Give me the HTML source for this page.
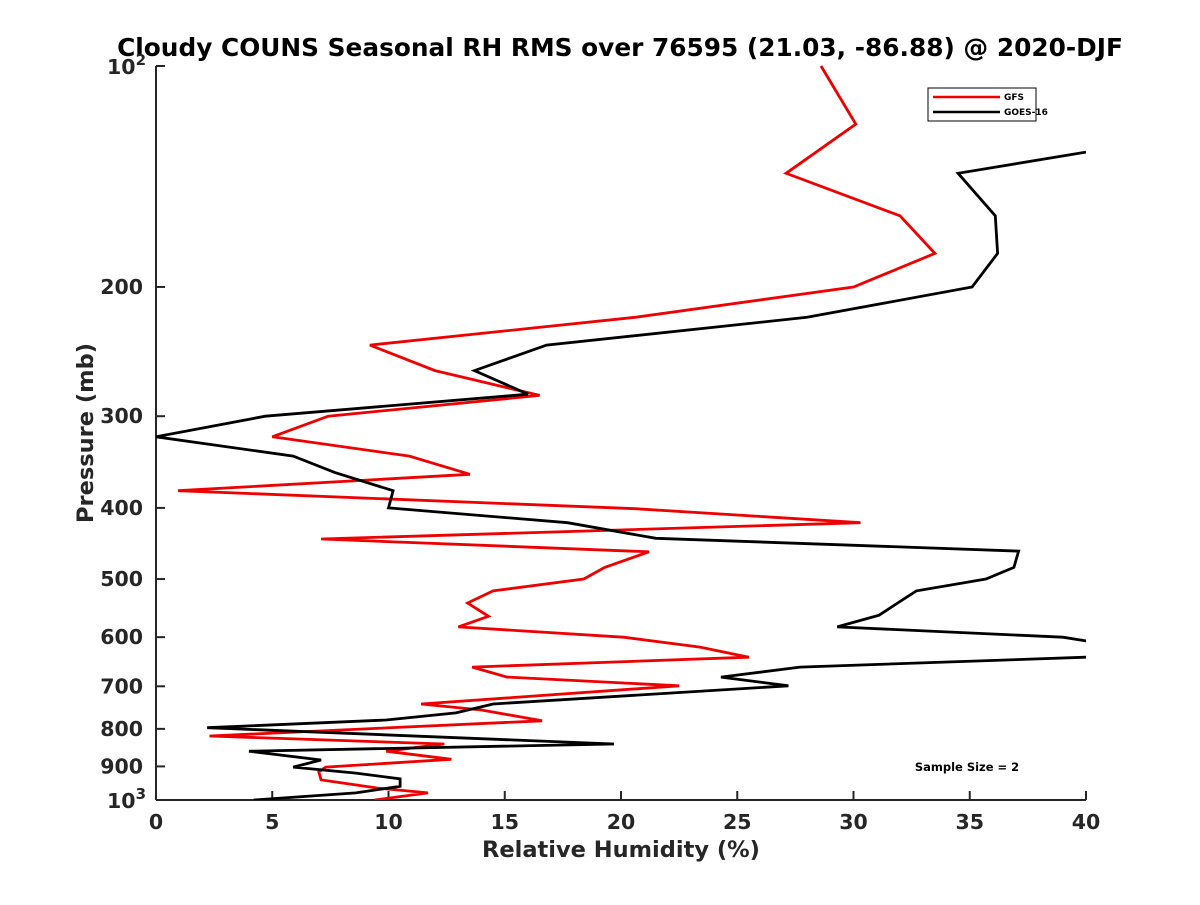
<!DOCTYPE html>
<html><head><meta charset="utf-8"><style>body{margin:0;background:#fff}svg text{font-family:"DejaVu Sans","Liberation Sans",sans-serif;font-weight:bold;fill:#262626}</style></head>
<body>
<svg id="chart" width="1200" height="900" xmlns="http://www.w3.org/2000/svg">
<text x="620" y="56" font-size="24.8" text-anchor="middle" style="fill:#000">Cloudy COUNS Seasonal RH RMS over 76595 (21.03, -86.88) @ 2020-DJF</text>
<g id="axes"></g>
<text x="621" y="857" font-size="22.5" text-anchor="middle">Relative Humidity (%)</text>
<text transform="translate(93,433) rotate(-90)" font-size="22.5" text-anchor="middle">Pressure (mb)</text>
<g id="series"></g>
<g>
<rect x="928" y="88" width="108" height="33" fill="#fff" stroke="#000" stroke-width="1"/>
<line x1="933" y1="97" x2="1000" y2="97" stroke="#e00" stroke-width="2.5"/>
<text x="1004" y="100" font-size="9" style="fill:#000">GFS</text>
<line x1="933" y1="112" x2="1000" y2="112" stroke="#000" stroke-width="2.5"/>
<text x="1004" y="115" font-size="9" style="fill:#000">GOES-16</text>
</g>
<text x="967" y="771" font-size="11.5" text-anchor="middle" style="fill:#000">Sample Size = 2</text>
</svg>
<script>
const xTicks=[0,5,10,15,20,25,30,35,40];
const yTicks=[200,300,400,500,600,700,800,900];
const gfsRH=[28.6,30.1,27.1,32.0,33.5,30.0,20.6,9.2,12.0,16.5,7.4,5.0,10.9,13.5,0.95,20.6,30.3,7.1,21.2,19.3,18.4,14.5,13.4,14.3,13.0,20.1,23.4,25.5,13.6,15.1,22.5,11.4,14.0,16.6,2.3,12.4,9.9,12.7,7.3,7.0,7.1,9.5,11.7,9.4];
const gfsP=[100,120,140,160,180,200,220,240,260,281,300,320,340,360,379,401,419,441,459,482,500,519,539,562,581,600,619,639,659,680,699,740,754,780,818,839,858,880,902,916,939,963,978,1000];
const goesRH=[40.0,34.5,36.1,36.2,35.1,28.0,16.8,13.7,16.0,4.7,0,5.9,7.7,10.2,10.0,17.7,21.5,37.1,36.9,35.7,32.7,31.9,31.1,29.3,39.0,40,42,40,27.7,24.3,27.2,14.5,12.9,9.9,2.2,19.7,4.0,7.1,5.9,8.6,10.5,10.5,8.6,4.2];
const goesP=[131,140,160,180,200,220,240,260,280,300,320,340,358,379,400,419,440,458,482,500,519,539,560,581,600,607,624,639,659,680,699,740,761,778,797,839,858,882,902,919,936,958,978,1000];
const X0=156,X1=1086,Y0=66,Y1=800;
const xs=v=>X0+(v-0)/40*(X1-X0);
const ys=p=>Y0+(Math.log10(p)-2)*(Y1-Y0);
const NS="http://www.w3.org/2000/svg";
function mk(t,a,parent){const e=document.createElementNS(NS,t);for(const k in a)e.setAttribute(k,a[k]);parent.appendChild(e);return e;}
const axes=document.getElementById('axes');
let l=mk('line',{x1:X0,y1:Y0,x2:X0,y2:Y1,stroke:'#262626','stroke-width':2},axes);


l=mk('line',{x1:X0,y1:Y1,x2:X1,y2:Y1,stroke:'#262626','stroke-width':2},axes);


xTicks.forEach(v=>{const x=xs(v);
 mk('line',{x1:x,y1:Y1,x2:x,y2:Y1-9,stroke:'#262626','stroke-width':2},axes);
 const t=mk('text',{x:x,y:Y1+29,'font-size':20.5,'text-anchor':'middle'},axes);t.textContent=v;
 
 });
[100,1000].concat(yTicks).forEach(p=>{const y=ys(p);
 mk('line',{x1:X0,y1:y,x2:X0+9,y2:y,stroke:'#262626','stroke-width':2},axes);});
yTicks.forEach(p=>{const t=mk('text',{x:X0-13,y:ys(p)+7,'font-size':20.5,'text-anchor':'end'},axes);t.textContent=p;
 
 });
[[100,'2'],[1000,'3']].forEach(([p,e])=>{const t=mk('text',{x:X0-10,y:ys(p)+8,'font-size':20.5,'text-anchor':'end'},axes);
 t.innerHTML='10<tspan dy="-9" font-size="15">'+e+'</tspan>';
 
 });
const sg=document.getElementById('series');
mk('clipPath',{id:'clip'},sg).appendChild(document.createElementNS(NS,'rect'));
const cr=sg.querySelector('rect');cr.setAttribute('x',X0);cr.setAttribute('y',Y0-5);cr.setAttribute('width',X1-X0);cr.setAttribute('height',Y1-Y0+5);
function line(rh,p,col,name){const pts=rh.map((v,i)=>xs(v).toFixed(1)+','+ys(p[i]).toFixed(1)).join(' ');
 const e=mk('polyline',{points:pts,fill:'none',stroke:col,'stroke-width':2.8,'clip-path':'url(#clip)','stroke-linejoin':'miter'},sg);
 
 }
line(gfsRH,gfsP,'#e00','gfs-line');
line(goesRH,goesP,'#000','goes16-line');
</script>
</body></html>
